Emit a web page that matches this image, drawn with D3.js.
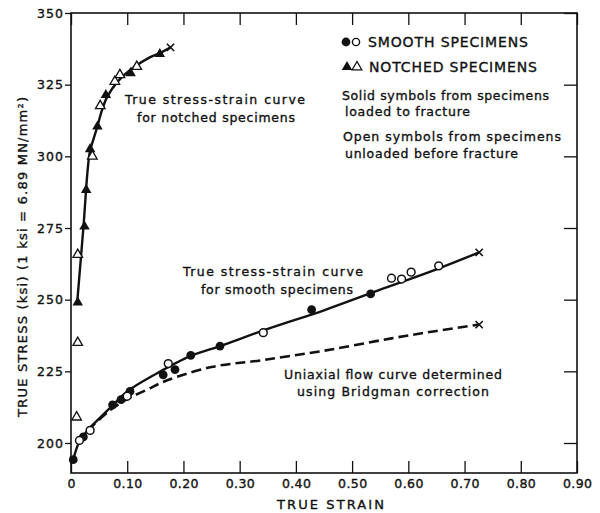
<!DOCTYPE html>
<html><head><meta charset="utf-8">
<script src="https://cdn.jsdelivr.net/npm/d3@7"></script>
<style>
body{margin:0;background:#fff}
svg{display:block}
text{font-family:"DejaVu Sans",sans-serif;fill:#111;stroke:#111;stroke-width:0.35px}
</style>
</head><body>
<svg id="c" width="600" height="513"></svg>
<script>
// ---------- data ----------
const strainTicks = [0, 0.1, 0.2, 0.3, 0.4, 0.5, 0.6, 0.7, 0.8, 0.9];
const strainTickLabels = ["0", "0.10", "0.20", "0.30", "0.40", "0.50", "0.60", "0.70", "0.80", "0.90"];
const stressTicks = [200, 225, 250, 275, 300, 325, 350];

// notched specimens
const notchedCurve = [[0.011,249],[0.022,275],[0.033,301],[0.04,306],[0.047,310.5],[0.055,316],[0.065,321],[0.085,326.5],[0.11,330.8],[0.14,334.5],[0.16,336.2],[0.177,338]];
const notchedSolid = [[0.012,249],[0.024,275.5],[0.027,288.3],[0.034,302.5],[0.047,310.4],[0.062,321.4],[0.106,329],[0.158,335.7]];
const notchedOpen = [[0.010,209],[0.012,235],[0.012,265.7],[0.038,300],[0.052,317.6],[0.078,326.1],[0.087,328.4],[0.117,331.3]];
const notchedFracture = [[0.177,338]];

// smooth specimens
const smoothCurve = [[0.004,194.2],[0.015,200.5],[0.03,204.5],[0.05,208.5],[0.075,213.3],[0.1,218],[0.15,224],[0.213,230.4],[0.265,233.8],[0.35,239.8],[0.45,246.3],[0.55,253.5],[0.65,260.6],[0.726,266.5]];
const smoothSolid = [[0.004,194.2],[0.022,202.1],[0.074,213.3],[0.089,215.1],[0.105,218],[0.164,223.8],[0.185,225.6],[0.213,230.6],[0.265,233.8],[0.428,246.5],[0.533,252]];
const smoothOpen = [[0.015,200.9],[0.034,204.4],[0.1,216.3],[0.173,227.7],[0.342,238.5],[0.57,257.5],[0.588,257.2],[0.605,259.6],[0.654,261.8]];
const smoothFracture = [[0.726,266.5]];

// uniaxial flow curve (Bridgman correction)
const bridgmanCurve = [[0.03,204.5],[0.07,211.5],[0.1,215.3],[0.135,218.6],[0.17,221.8],[0.25,226.5],[0.34,228.9],[0.45,232.2],[0.57,236.5],[0.65,239.1],[0.726,241.3]];
const bridgmanEnd = [[0.726,241.3]];

// ---------- layout ----------
const svg = d3.select("#c");
const frame = {left:71, right:577, top:13, bottom:473};
const x = d3.scaleLinear().domain([0,0.9]).range([frame.left, frame.right]);
const y = d3.scaleLinear().domain([200,350]).range([443, frame.top]);
const ink = "#111";

function fit(sel, w){ return sel.attr("textLength", w).attr("lengthAdjust","spacing"); }

// frame
svg.append("rect").attr("x",frame.left).attr("y",frame.top)
  .attr("width",frame.right-frame.left).attr("height",frame.bottom-frame.top)
  .attr("fill","none").attr("stroke",ink).attr("stroke-width",1.6);

// bottom axis
const gx = svg.append("g").attr("transform",`translate(0,${frame.bottom})`)
  .call(d3.axisBottom(x).tickValues(strainTicks).tickSize(-12).tickSizeOuter(0).tickPadding(6)
    .tickFormat((d,i)=>strainTickLabels[i]));
gx.select(".domain").remove();
gx.selectAll(".tick line").attr("stroke",ink).attr("stroke-width",1.3);
gx.selectAll(".tick text").style("font-size","12.5px").attr("fill",ink)
  .each(function(d,i){ if(strainTickLabels[i].length>1) fit(d3.select(this),29); });

// top axis (mirror ticks)
const gt = svg.append("g").attr("transform",`translate(0,${frame.top})`)
  .call(d3.axisTop(x).tickValues(strainTicks).tickSize(-12).tickSizeOuter(0).tickFormat(""));
gt.select(".domain").remove();
gt.selectAll(".tick line").attr("stroke",ink).attr("stroke-width",1.3);

// left axis
const gy = svg.append("g").attr("transform",`translate(${frame.left},0)`)
  .call(d3.axisLeft(y).tickValues(stressTicks).tickSize(6).tickSizeOuter(0).tickPadding(2));
gy.select(".domain").remove();
gy.selectAll(".tick line").attr("stroke",ink).attr("stroke-width",1.3);
gy.selectAll(".tick text").style("font-size","12.5px").attr("fill",ink)
  .each(function(){ fit(d3.select(this),26); });

// right axis (mirror ticks)
const gr = svg.append("g").attr("transform",`translate(${frame.right},0)`)
  .call(d3.axisRight(y).tickValues(stressTicks).tickSize(-13).tickSizeOuter(0).tickFormat(""));
gr.select(".domain").remove();
gr.selectAll(".tick line").attr("stroke",ink).attr("stroke-width",1.3);

// axis titles
fit(svg.append("text").attr("x",330.5).attr("y",504).attr("dy","0.35em")
  .attr("text-anchor","middle").style("font-size","13px").text("TRUE STRAIN"),107);
fit(svg.append("text").attr("transform","translate(22,257) rotate(-90)").attr("dy","0.35em")
  .attr("text-anchor","middle").style("font-size","13px")
  .text("TRUE STRESS (ksi) (1 ksi = 6.89 MN/mm²)"),320);

// curves
const line = d3.line().x(d=>x(d[0])).y(d=>y(d[1])).curve(d3.curveCatmullRom.alpha(0.5));
svg.append("path").attr("d",line(bridgmanCurve)).attr("fill","none").attr("stroke",ink)
  .attr("stroke-width",2.6).attr("stroke-dasharray","10,5");
svg.append("path").attr("d",line(smoothCurve)).attr("fill","none").attr("stroke",ink).attr("stroke-width",2.4);
svg.append("path").attr("d",line(notchedCurve)).attr("fill","none").attr("stroke",ink).attr("stroke-width",2.4);

// markers
const tri = d3.symbol().type(d3.symbolTriangle).size(48)();
const triO = d3.symbol().type(d3.symbolTriangle).size(40)();
const cross = d3.symbol().type(d3.symbolTimes).size(36)();

svg.append("g").selectAll("circle").data(smoothSolid).join("circle")
  .attr("cx",d=>x(d[0])).attr("cy",d=>y(d[1])).attr("r",4.4).attr("fill",ink);
svg.append("g").selectAll("circle").data(smoothOpen).join("circle")
  .attr("cx",d=>x(d[0])).attr("cy",d=>y(d[1])).attr("r",3.9).attr("fill","#fff")
  .attr("stroke",ink).attr("stroke-width",1.5);
svg.append("g").selectAll("path").data(notchedSolid).join("path")
  .attr("transform",d=>`translate(${x(d[0])},${y(d[1])})`).attr("d",tri).attr("fill",ink);
svg.append("g").selectAll("path").data(notchedOpen).join("path")
  .attr("transform",d=>`translate(${x(d[0])},${y(d[1])})`).attr("d",triO).attr("fill","#fff")
  .attr("stroke",ink).attr("stroke-width",1.3);
svg.append("g").selectAll("path").data(notchedFracture.concat(smoothFracture, bridgmanEnd)).join("path")
  .attr("transform",d=>`translate(${x(d[0])},${y(d[1])})`).attr("d",cross)
  .attr("fill","none").attr("stroke",ink).attr("stroke-width",1.6);

// legend
const lg = svg.append("g");
lg.append("circle").attr("cx",346).attr("cy",42).attr("r",4.4).attr("fill",ink);
lg.append("circle").attr("cx",356).attr("cy",42).attr("r",3.6).attr("fill","#fff").attr("stroke",ink).attr("stroke-width",1.4);
lg.append("path").attr("transform","translate(347,67)").attr("d",tri).attr("fill",ink);
lg.append("path").attr("transform","translate(357,67)").attr("d",triO).attr("fill","#fff").attr("stroke",ink).attr("stroke-width",1.3);

function label(tx, x0, cy, w, size){
  return fit(svg.append("text").attr("x",x0).attr("y",cy).attr("dy","0.35em")
    .style("font-size",(size||12)+"px").text(tx), w);
}
label("SMOOTH SPECIMENS", 368, 42, 160, 14);
label("NOTCHED SPECIMENS", 369, 67, 168, 14);
label("Solid symbols from specimens", 342, 96, 207, 12.5);
label("loaded to fracture", 345, 112, 125, 12.5);
label("Open symbols from specimens", 343, 137, 218, 12.5);
label("unloaded before fracture", 345, 154, 173, 12.5);

// annotations
label("True stress-strain curve", 125, 100, 180, 12.5);
label("for notched specimens", 137, 118, 158, 12.5);
label("True stress-strain curve", 183, 272, 180, 12.5);
label("for smooth specimens", 201, 290, 152, 12.5);
label("Uniaxial flow curve determined", 284, 375, 218, 12.5);
label("using Bridgman correction", 297, 392, 192, 12.5);
</script>
</body></html>
